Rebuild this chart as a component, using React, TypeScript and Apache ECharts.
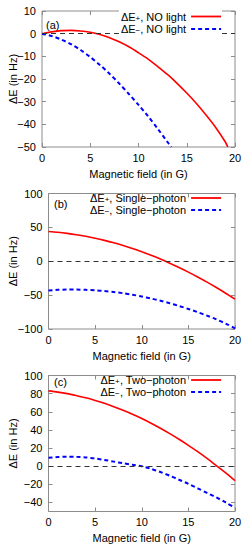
import React, { useEffect, useRef } from "react";
import * as echarts from "echarts";

// Panel (a): NO light
const aPlusX = [0, 1, 2, 3, 4, 5, 6, 7, 8, 9, 10, 11, 12, 13, 14, 15, 16, 17, 18, 19, 19.25];
const aPlusY = [0, 0.8, 1.35, 1.45, 1.2, 0.6, -0.4, -1.8, -3.6, -5.8, -8.4, -11.2, -14.5, -18, -21.9, -26.2, -30.8, -35.9, -41.4, -47.8, -50];
const aMinusX = [0, 1, 2, 3, 4, 5, 6, 7, 8, 9, 10, 11, 12, 13, 13.4];
const aMinusY = [0, -1.0, -2.6, -4.6, -7.2, -10.3, -13.8, -17.7, -22, -26.6, -31.4, -36.5, -42, -47.8, -50];

// Panel (b): Single-photon
const bPlusX = [0, 1, 2, 3, 4, 5, 6, 7, 8, 9, 10, 11, 12, 13, 14, 15, 16, 17, 18, 19, 20];
const bPlusY = [44, 42.8, 41.2, 39.2, 36.8, 34, 30.8, 27.2, 23.2, 18.8, 14, 8.8, 3.2, -2.8, -9.2, -16, -23.2, -30.8, -38.8, -47.2, -56];
const bMinusX = [0, 1, 2, 3, 4, 5, 6, 7, 8, 9, 10, 11, 12, 13, 14, 15, 16, 17, 18, 19, 20];
const bMinusY = [-43, -42.2, -41.8, -41.8, -42.2, -42.9, -44, -45.4, -47.2, -49.4, -52, -55, -58.3, -62, -66, -70.4, -75.2, -80.3, -85.8, -92, -99];

// Panel (c): Two-photon
const cPlusX = [0, 1, 2, 3, 4, 5, 6, 7, 8, 9, 10, 11, 12, 13, 14, 15, 16, 17, 18, 19, 20];
const cPlusY = [83, 81.7, 80, 77.8, 75.4, 72.5, 69.3, 65.6, 61.6, 57.3, 52.5, 47.4, 41.8, 35.9, 29.7, 23, 16, 8.5, 0.6, -7.4, -16];
const cMinusX = [0, 1, 2, 3, 4, 5, 6, 7, 8, 9, 10, 11, 12, 13, 14, 15, 16, 17, 18, 19, 20];
const cMinusY = [9.3, 10, 10.4, 10.3, 9.6, 8.5, 6.9, 5, 3.2, 1.5, 0, -3, -6.5, -10.5, -15, -19.5, -24.5, -29.5, -34.5, -40, -46];

const cYTicks = [-40, -20, 0, 20, 40, 60, 80, 100];

const seriesNames = ["a+", "a-", "b+", "b-", "c+", "c-"];
const legendLabels = [
  "ΔE{sub|+}, NO light",
  "ΔE{sub|−}, NO light",
  "ΔE{sub|+}, Single−photon",
  "ΔE{sub|−}, Single−photon",
  "ΔE{sub|+}, Two−photon",
  "ΔE{sub|−}, Two−photon",
];
const panelLabels = ["(a)", "(b)", "(c)"];
const xAxisTitle = "Magnetic field (in G)";
const yAxisTitle = "ΔE (in Hz)";

const FONT = "Liberation Sans, Arial, Helvetica, sans-serif";
const FRAME = "#8c8c8c";
const RED = "#ff0000";
const BLUE = "#0000ff";

const zip = (xs: number[], ys: number[]) => xs.map((x, i) => [x, ys[i]]);
const fmt = (v: number) => String(v).replace("-", "\u2212");

const grids = [
  { left: 42, top: 11, width: 193, height: 136 },
  { left: 48.5, top: 193.5, width: 186.5, height: 135.5 },
  { left: 48.5, top: 375.5, width: 186.5, height: 136 },
];
const yRanges = [
  { min: -50, max: 10, interval: 10 },
  { min: -100, max: 100, interval: 50 },
  { min: -50, max: 100 },
];
const yNameGaps = [24, 30, 30];

export default function App() {
  const ref = useRef<HTMLDivElement>(null);
  useEffect(() => {
    if (!ref.current) return;
    const chart = echarts.init(ref.current, null, { renderer: "svg" });

    const xAxes: any[] = [];
    const yAxes: any[] = [];
    const tick = { show: true, inside: true, length: 4, lineStyle: { color: FRAME } };
    for (let g = 0; g < 3; g++) {
      xAxes.push({
        type: "value",
        gridIndex: g,
        min: 0,
        max: 20,
        interval: 5,
        position: "bottom",
        axisLine: { show: false, onZero: false },
        axisTick: tick,
        splitLine: { show: false },
        axisLabel: { color: "#000", fontSize: 11, fontFamily: FONT, margin: 5, formatter: fmt },
        name: xAxisTitle,
        nameLocation: "middle",
        nameGap: 21,
        nameMoveOverlap: false,
        nameTextStyle: { color: "#000", fontSize: 11, fontFamily: FONT },
      });
      const yr: any = yRanges[g];
      const custom = g === 2 ? { customValues: cYTicks } : {};
      yAxes.push({
        type: "value",
        gridIndex: g,
        min: yr.min,
        max: yr.max,
        ...(yr.interval ? { interval: yr.interval } : {}),
        position: "left",
        axisLine: { show: false, onZero: false },
        axisTick: { ...tick, ...custom },
        splitLine: { show: false },
        axisLabel: { color: "#000", fontSize: 11, fontFamily: FONT, margin: 6, formatter: fmt, ...custom },
        name: yAxisTitle,
        nameLocation: "middle",
        nameRotate: 90,
        nameGap: yNameGaps[g],
        nameMoveOverlap: false,
        nameTextStyle: { color: "#000", fontSize: 11, fontFamily: FONT },
      });
    }
    // mirrored ticks (top / right)
    for (let g = 0; g < 3; g++) {
      xAxes.push({
        type: "value",
        gridIndex: g,
        min: 0,
        max: 20,
        interval: 5,
        position: "top",
        axisLine: { show: false, onZero: false },
        axisTick: tick,
        axisLabel: { show: false },
        splitLine: { show: false },
      });
      const yr: any = yRanges[g];
      const custom = g === 2 ? { customValues: cYTicks } : {};
      yAxes.push({
        type: "value",
        gridIndex: g,
        min: yr.min,
        max: yr.max,
        ...(yr.interval ? { interval: yr.interval } : {}),
        position: "right",
        axisLine: { show: false, onZero: false },
        axisTick: { ...tick, ...custom },
        axisLabel: { show: false, ...custom },
        splitLine: { show: false },
      });
    }

    const zero = {
      silent: true,
      symbol: "none",
      label: { show: false },
      lineStyle: { color: "#333", type: [5, 4], width: 1 },
      data: [{ yAxis: 0 }],
    };

    const dataSets = [
      [zip(aPlusX, aPlusY), zip(aMinusX, aMinusY)],
      [zip(bPlusX, bPlusY), zip(bMinusX, bMinusY)],
      [zip(cPlusX, cPlusY), zip(cMinusX, cMinusY)],
    ];
    const series: any[] = [];
    for (let g = 0; g < 3; g++) {
      series.push({
        type: "line",
        name: seriesNames[g * 2],
        xAxisIndex: g,
        yAxisIndex: g,
        data: dataSets[g][0],
        symbol: "none",
        smooth: 0.3,
        clip: true,
        lineStyle: { color: RED, width: 1.6, type: "solid" },
        itemStyle: { color: RED },
        markLine: zero,
        z: 2,
      });
      series.push({
        type: "line",
        name: seriesNames[g * 2 + 1],
        xAxisIndex: g,
        yAxisIndex: g,
        data: dataSets[g][1],
        symbol: "none",
        smooth: 0.3,
        clip: true,
        lineStyle: { color: BLUE, width: 2, type: [4, 3] },
        itemStyle: { color: BLUE },
        z: 2,
      });
    }

    const legendTops = [10, 191.5, 373.5];
    const legendGaps = [0.5, 0, 0];
    const legends = [0, 1, 2].map((g) => ({
      data: [seriesNames[g * 2], seriesNames[g * 2 + 1]],
      orient: "vertical",
      right: 26,
      top: legendTops[g],
      align: "right",
      itemWidth: 30,
      itemHeight: 11,
      itemGap: legendGaps[g],
      padding: [0, 0, 0, 2],
      z: 10,
      backgroundColor: g === 0 ? "#fff" : "transparent",
      selectedMode: false,
      itemStyle: { opacity: 0 },
      lineStyle: { width: 1.8 },
      formatter: (name: string) => legendLabels[seriesNames.indexOf(name)],
      textStyle: {
        color: "#000",
        fontSize: 11,
        fontFamily: FONT,
        lineHeight: 11,
        rich: {
          sub: { fontSize: 8, fontFamily: FONT, color: "#000", verticalAlign: "bottom", lineHeight: 7, padding: [4, 0, 0, 0] },
        },
      },
    }));

    const graphic = panelLabels.map((t, g) => ({
      type: "text",
      left: [46, 54, 54][g],
      top: [19, 198, 376][g],
      style: { text: t, fontSize: 11, fontFamily: FONT, fill: "#000" },
    }));

    chart.setOption({
      animation: false,
      backgroundColor: "#fff",
      grid: grids.map((gr) => ({ ...gr, show: true, borderColor: FRAME, borderWidth: 1, backgroundColor: "transparent", containLabel: false, outerBoundsMode: "none" })),
      xAxis: xAxes,
      yAxis: yAxes,
      legend: legends,
      series,
      graphic,
    });
    return () => chart.dispose();
  }, []);
  return <div ref={ref} style={{ position: "absolute", left: 0, top: 0, width: 248, height: 550 }} />;
}
